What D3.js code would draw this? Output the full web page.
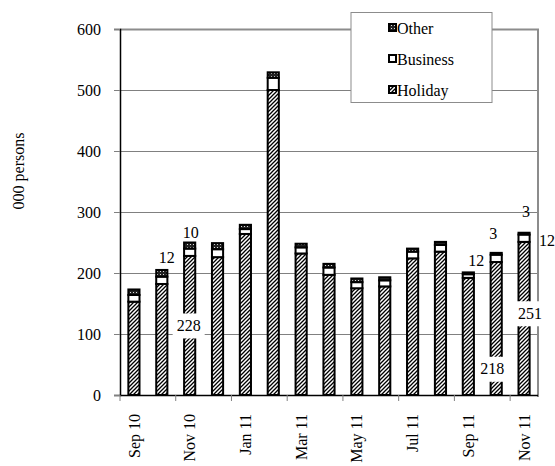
<!DOCTYPE html>
<html><head><meta charset="utf-8">
<script src="https://cdn.jsdelivr.net/npm/d3@7"></script>
<style>body{margin:0;background:#fff}svg{display:block}svg text{font-family:"Liberation Serif","Times New Roman",serif !important;font-size:16px !important;fill:#000}</style>
</head><body><svg id="c" width="555" height="466"></svg>
<script>
const categories = ["Sep 10","Oct 10","Nov 10","Dec 10","Jan 11","Feb 11","Mar 11","Apr 11","May 11","Jun 11","Jul 11","Aug 11","Sep 11","Oct 11","Nov 11"];
const holiday  = [153,182,228,226,264,500,232,197,175,178,224,235,192,218,251];
const business = [11,12,12,13,8,20,10,12,10,10,11,11,6,12,12];
const other    = [9,11,10,10,7,9,6,6,6,5,5,5,3,3,3];
const yTicks = [0,100,200,300,400,500,600];
const xTickLabels = ["Sep 10","Nov 10","Jan 11","Mar 11","May 11","Jul 11","Sep 11","Nov 11"];
// data labels: category, text, value position, x offset, white box
const dataLabels = [
  {cat:"Nov 10", text:"10",  at:267, dx:1,   box:false},
  {cat:"Nov 10", text:"12",  at:226, dx:-23, box:false},
  {cat:"Nov 10", text:"228", at:114, dx:-1,  box:true},
  {cat:"Oct 11", text:"3",   at:265, dx:-3,  box:false},
  {cat:"Oct 11", text:"12",  at:221, dx:-20, box:false},
  {cat:"Oct 11", text:"218", at:43,  dx:-4,  box:true},
  {cat:"Nov 11", text:"3",   at:301, dx:2,   box:false},
  {cat:"Nov 11", text:"12",  at:253, dx:23,  box:false},
  {cat:"Nov 11", text:"251", at:134, dx:6,   box:true}
];
const seriesNames = ["Holiday","Business","Other"];

const svg = d3.select("#c");
const L=120, R=538, T=29, B=395;
const x = d3.scaleBand().domain(categories).range([L,R]).paddingInner(0.6).paddingOuter(0.3);
const y = d3.scaleLinear().domain([0,600]).range([B,T]);

const defs = svg.append("defs");
const hp = defs.append("pattern").attr("id","hatch").attr("patternUnits","userSpaceOnUse").attr("width",4).attr("height",4);
hp.append("rect").attr("width",4).attr("height",4).attr("fill","#fff");
hp.append("path").attr("d","M-1,1 L1,-1 M0,4 L4,0 M3,5 L5,3").attr("stroke","#000").attr("stroke-width",1.3);
const op = defs.append("pattern").attr("id","dots").attr("patternUnits","userSpaceOnUse").attr("width",3).attr("height",3);
op.append("rect").attr("width",3).attr("height",3).attr("fill","#222");
op.append("rect").attr("x",1).attr("y",1).attr("width",1).attr("height",1).attr("fill","#ddd");
const fills = {Holiday:"url(#hatch)", Business:"#fff", Other:"url(#dots)"};

// gridlines
svg.append("g").selectAll("line").data(yTicks.filter(d=>d>0&&d<600)).join("line")
  .attr("x1",L).attr("x2",R).attr("y1",d=>y(d)+0.5).attr("y2",d=>y(d)+0.5)
  .attr("stroke","#808080").attr("stroke-width",1);
// frame top/right
svg.append("path").attr("d",`M${L},${y(600)+0.5} H${R} V${B+2}`).attr("fill","none").attr("stroke","#8c8c8c").attr("stroke-width",2);

// stacked bars
const table = categories.map((c,i)=>({cat:c, Holiday:holiday[i], Business:business[i], Other:other[i]}));
const stack = d3.stack().keys(seriesNames)(table);
svg.append("g").selectAll("g").data(stack).join("g")
  .attr("fill",d=>fills[d.key])
  .selectAll("rect").data(d=>d).join("rect")
  .attr("x",d=>x(d.data.cat)).attr("width",x.bandwidth())
  .attr("y",d=>y(d[1])).attr("height",d=>y(d[0])-y(d[1]))
  .attr("stroke","#000").attr("stroke-width",2);

// y axis
const ya = svg.append("g").attr("transform",`translate(${L},0)`)
  .call(d3.axisLeft(y).tickValues(yTicks).tickSize(6).tickPadding(13));
ya.select(".domain").attr("stroke","#000").attr("stroke-width",1.5);
ya.selectAll(".tick line").attr("stroke","#808080");

// x axis
const step = x.step();
const xtPos = d3.range(0,categories.length+1,2).map(k=>L+k*step);
svg.append("line").attr("x1",L).attr("x2",R).attr("y1",B+0.5).attr("y2",B+0.5).attr("stroke","#000").attr("stroke-width",1.5);
svg.append("g").selectAll("line").data(xtPos).join("line")
  .attr("x1",d=>d).attr("x2",d=>d).attr("y1",B).attr("y2",B+6).attr("stroke","#808080");
svg.append("g").selectAll("text").data(xTickLabels).join("text")
  .attr("transform",d=>`translate(${x(d)+x.bandwidth()/2},414) rotate(-90)`)
  .attr("text-anchor","end").attr("dy","0.35em").text(d=>d);

// y title
svg.append("text").attr("transform","translate(18,171) rotate(-90)").attr("text-anchor","middle").attr("dy","0.35em").text("000 persons");

// data labels
const lg = svg.append("g");
dataLabels.forEach(l=>{
  const cx = x(l.cat)+x.bandwidth()/2+l.dx, cy = y(l.at);
  if(l.box) lg.append("rect").attr("x",cx-16).attr("y",cy-12).attr("width",32).attr("height",25).attr("fill","#fff");
  lg.append("text").attr("x",cx).attr("y",cy).attr("dy","0.35em").attr("text-anchor","middle").text(l.text);
});

// legend
const leg = svg.append("g");
leg.append("rect").attr("x",351).attr("y",12.5).attr("width",141).attr("height",90).attr("fill","#fff").attr("stroke","#8c8c8c");
const legItems = ["Other","Business","Holiday"];
const legY = [28,59,90];
legItems.forEach((k,i)=>{
  leg.append("rect").attr("x",389).attr("y",legY[i]-4).attr("width",7).attr("height",7).attr("fill",fills[k]).attr("stroke","#000").attr("stroke-width",2);
  leg.append("text").attr("x",397).attr("y",legY[i]).attr("dy","0.35em").text(k);
});
</script></body></html>
